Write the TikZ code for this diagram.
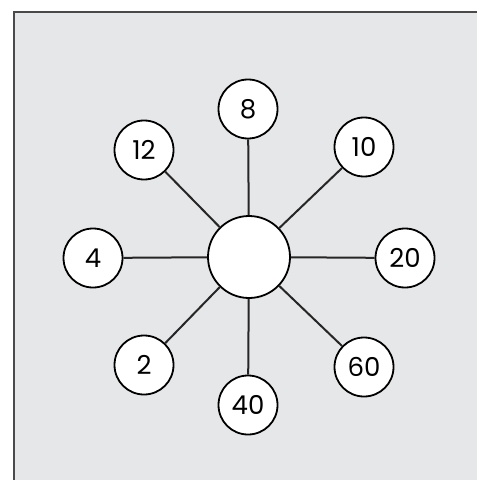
\documentclass[tikz,border=0pt]{standalone}
\usepackage{fontspec}
\setmainfont{Poppins}
\definecolor{bggray}{HTML}{E6E7E8}
\definecolor{framegray}{HTML}{4A4A4A}
\definecolor{spokegray}{HTML}{262626}
\begin{document}
\begin{tikzpicture}[x=1pt,y=-1pt,
  numnode/.style={circle, draw=black, line width=1.8pt, fill=white, minimum size=59pt, inner sep=0pt, font=\fontsize{26}{26}\selectfont},
  hubnode/.style={circle, draw=black, line width=1.8pt, fill=white, minimum size=82pt, inner sep=0pt},
  spoke/.style={line width=2pt, draw=spokegray}]
\useasboundingbox (0,0) rectangle (477,481);
\fill[bggray] (13,11) rectangle (477,480);
\draw[framegray, line width=2pt] (14,480) -- (14,12) -- (477,12);
\node[hubnode] (c) at (249,257) {};
\node[numnode] (n8)  at (248,109) {8};
\node[numnode] (n12) at (144,150) {12};
\node[numnode] (n10) at (364,147) {10};
\node[numnode] (n4)  at (93,258)  {4};
\node[numnode] (n20) at (405,258) {20};
\node[numnode] (n2)  at (144,365) {2};
\node[numnode] (n40) at (248,405) {40};
\node[numnode] (n60) at (364,367) {60};
\foreach \n in {n8,n12,n10,n4,n20,n2,n40,n60}
  \draw[spoke] (c) -- (\n);
\end{tikzpicture}
\end{document}
